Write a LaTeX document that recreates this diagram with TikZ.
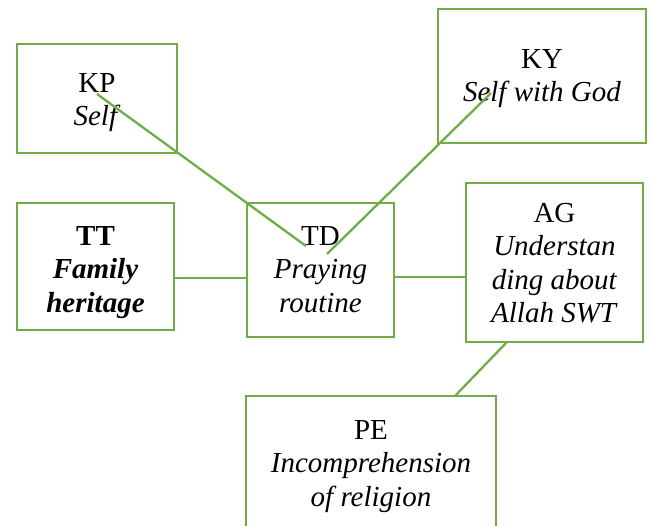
\documentclass[tikz,border=0pt]{standalone}
\usepackage{fontspec}
\setmainfont{Liberation Serif}
\definecolor{grn}{HTML}{70AD47}
\tikzset{
  box/.style={draw=grn, line width=2.6pt, inner sep=0pt, outer sep=0pt, anchor=north west},
  con/.style={draw=grn, line width=2.3pt},
  txt/.style={align=center, anchor=north, inner sep=0pt, font=\fontsize{29}{33.5}\selectfont}
}
\begin{document}
\begin{tikzpicture}[x=1pt,y=-1pt]
\clip (0,0) rectangle (651,526);
% boxes
\node[box, minimum width=160pt, minimum height=109pt] (kp) at (17,44) {};
\node[box, minimum width=208pt, minimum height=134pt] (ky) at (438,9) {};
\node[box, minimum width=157pt, minimum height=127pt] (tt) at (17,203) {};
\node[box, minimum width=147pt, minimum height=134pt] (td) at (247,203) {};
\node[box, minimum width=177pt, minimum height=159pt] (ag) at (466,183) {};
\node[box, minimum width=250pt, minimum height=150pt] (pe) at (246,396) {};
% texts
\node[txt] (kpt) at (97,73) {KP\\\textit{Self}};
\node[txt] (kyt) at (542,49) {KY\\\textit{Self with God}};
\node[txt] (ttt) at (95.5,226) {\textbf{TT}\\\textbf{\textit{Family}}\\\textbf{\textit{heritage}}};
\node[txt] (tdt) at (320.5,226) {TD\\\textit{Praying}\\\textit{routine}};
\node[txt] (agt) at (554.5,203) {AG\\\textit{Understan}\\\textit{ding about}\\\textit{Allah SWT}};
\node[txt] (pet) at (371,420) {PE\\\textit{Incomprehension}\\\textit{of religion}};
% connector end points
\coordinate (kpin) at (97,94);
\coordinate (tdin1) at (306,246);
\coordinate (kyin) at (491,93);
\coordinate (tdin2) at (327,254);
% connectors
\draw[con] (kpin) -- (tdin1);
\draw[con] (kyin) -- (tdin2);
\draw[con] (tt.east |- 0,278) -- (td.west |- 0,278);
\draw[con] (td.east |- 0,277) -- (ag.west |- 0,277);
\draw[con] (ag.south -| 507,0) -- (pe.north -| 455,0);
\end{tikzpicture}
\end{document}
